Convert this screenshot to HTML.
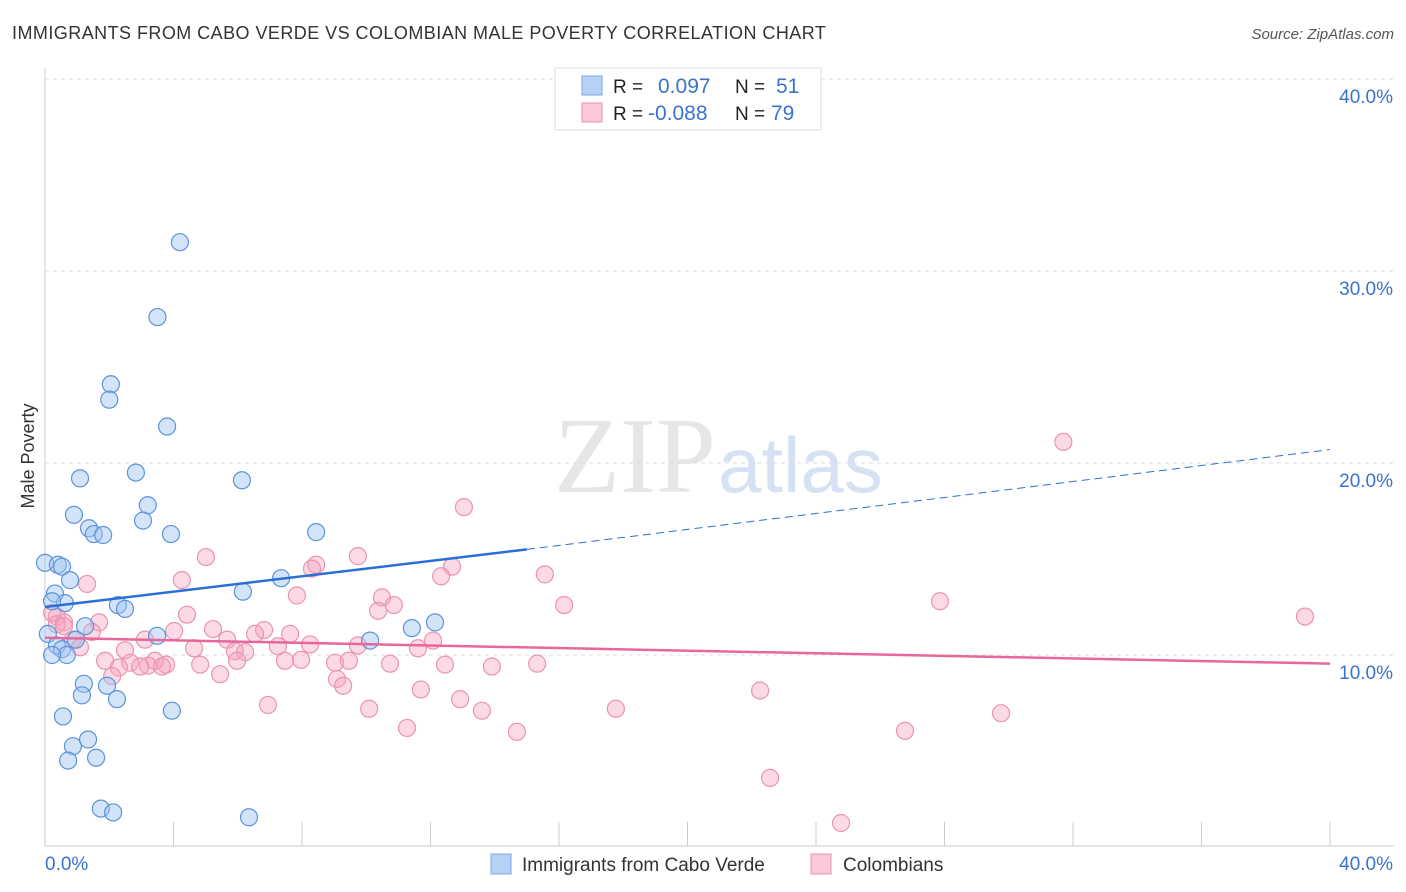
<!DOCTYPE html>
<html><head><meta charset="utf-8"><style>
body{margin:0;background:#fff;font-family:"Liberation Sans",sans-serif}
#c{position:absolute;left:0;top:0;width:1406px;height:892px}
</style></head><body>
<svg id="c" width="1406" height="892">
<text x="12" y="39" font-size="18" fill="#333" letter-spacing="0.45">IMMIGRANTS FROM CABO VERDE VS COLOMBIAN MALE POVERTY CORRELATION CHART</text>
<text x="1394" y="39" font-size="15" fill="#555" font-style="italic" text-anchor="end">Source: ZipAtlas.com</text>
<text x="34" y="456" font-size="18" fill="#333" text-anchor="middle" transform="rotate(-90 34 456)">Male Poverty</text>
<text x="716" y="492" font-size="108" fill="#e6e6e6" text-anchor="end" font-family="Liberation Serif">ZIP</text>
<text x="718" y="492" font-size="78" fill="#d6e2f3">atlas</text>
<g id="grid"></g><g id="marks"></g>
<g>
<rect x="555" y="68" width="266" height="62" fill="#fff" stroke="#ddd"/>
<rect x="582" y="76" width="20" height="19" fill="#b6d1f5" stroke="#7aa7e3"/>
<rect x="582" y="103" width="20" height="19" fill="#fbc9d8" stroke="#eb93b0"/>
<text x="613" y="93" font-size="19" fill="#222">R = </text><text x="658" y="93" font-size="21" fill="#3a73cc">0.097</text>
<text x="735" y="93" font-size="19" fill="#222">N = </text><text x="776" y="93" font-size="21" fill="#3a73cc">51</text>
<text x="613" y="120" font-size="19" fill="#222">R = </text><text x="648" y="120" font-size="21" fill="#3a73cc">-0.088</text>
<text x="735" y="120" font-size="19" fill="#222">N = </text><text x="771" y="120" font-size="21" fill="#3a73cc">79</text>
</g>
<g>
<rect x="491" y="854" width="20" height="20" fill="#b6d1f5" stroke="#7aa7e3"/>
<text x="522" y="871" font-size="19" fill="#333">Immigrants from Cabo Verde</text>
<rect x="811" y="854" width="20" height="20" fill="#fbc9d8" stroke="#eb93b0"/>
<text x="843" y="871" font-size="19" fill="#333">Colombians</text>
</g>
</svg>
<script>
const yTicks=[10,20,30,40];
const xTickLabels=["0.0%","40.0%"];
const blueX=[4.2,3.5,2.05,2.0,3.8,2.83,1.09,6.13,3.2,0.9,3.05,1.37,1.52,1.81,3.92,8.44,0,0.4,0.53,0.78,7.35,0.31,6.16,0.62,0.22,2.27,2.49,12.14,11.42,1.25,3.49,10.12,0.09,0.96,0.37,0.53,0.68,0.22,1.21,1.93,1.15,2.24,3.95,0.56,0.87,1.34,0.72,1.59,1.74,2.12,6.35];
const blueY=[31.5,27.6,24.1,23.3,21.9,19.5,19.2,19.1,17.8,17.3,17.0,16.6,16.3,16.25,16.3,16.4,14.8,14.7,14.6,13.9,14.0,13.2,13.3,12.7,12.8,12.6,12.4,11.7,11.4,11.5,11.0,10.75,11.1,10.8,10.5,10.3,10.0,10.0,8.5,8.4,7.9,7.7,7.1,6.8,5.25,5.6,4.5,4.65,2.0,1.8,1.55];
const pinkX=[31.7,13.04,5.01,9.74,8.44,8.31,12.67,1.31,4.26,12.33,15.56,7.84,10.49,10.86,10.37,16.16,27.86,39.22,4.42,1.68,0.37,0.59,0.22,1.46,4.02,5.23,6.82,6.54,7.63,5.67,12.08,3.11,0.87,1.09,2.49,4.64,7.25,8.25,9.74,11.61,5.91,6.23,3.42,1.87,2.65,3.77,3.21,3.64,5.98,7.47,7.97,9.03,9.46,10.74,12.45,13.91,15.32,2.96,2.3,2.09,5.45,4.83,9.09,9.28,11.7,22.26,12.92,6.94,10.09,13.6,17.77,29.76,11.27,14.69,26.77,22.57,24.78,0.37,0.59];
const pinkY=[21.1,17.7,15.1,15.15,14.7,14.5,14.6,13.7,13.9,14.1,14.2,13.1,13.0,12.6,12.3,12.6,12.8,12.0,12.1,11.7,12.0,11.7,12.2,11.2,11.25,11.35,11.3,11.1,11.1,10.8,10.75,10.8,10.8,10.4,10.25,10.35,10.45,10.55,10.5,10.35,10.2,10.15,9.7,9.7,9.6,9.5,9.45,9.4,9.7,9.7,9.75,9.6,9.7,9.55,9.5,9.4,9.55,9.4,9.35,8.9,9.0,9.5,8.75,8.4,8.2,8.15,7.7,7.4,7.2,7.1,7.2,6.97,6.2,6.0,6.05,3.6,1.25,11.6,11.5];
const blueTrend=[[0,12.5],[15,15.5]],blueDash=[[15,15.5],[40,20.7]],pinkTrend=[[0,10.9],[40,9.55]];
const X=v=>45+v*32.125, Y=v=>847-v*19.2;
const NS="http://www.w3.org/2000/svg";
function mk(t,a,p){const e=document.createElementNS(NS,t);for(const k in a)e.setAttribute(k,a[k]);p.appendChild(e);return e;}
const g=document.getElementById('grid'),m=document.getElementById('marks');
mk('line',{x1:45,y1:68,x2:45,y2:846,stroke:'#ccc'},g);
mk('line',{x1:45,y1:846,x2:1394,y2:846,stroke:'#ccc'},g);
for(let i=0;i<=10;i++){const l=mk('line',{x1:X(i*4),y1:822,x2:X(i*4),y2:846,stroke:'#ccc'},g);

}
mk('line',{x1:45,y1:79,x2:1394,y2:79,stroke:'#ddd','stroke-dasharray':'4 4'},g);
yTicks.forEach(t=>{const l=mk('line',{x1:45,y1:Y(t),x2:1394,y2:Y(t),stroke:'#ddd','stroke-dasharray':'4 4'},g);


const tx=mk('text',{x:1393,y:Y(t)+24,'font-size':19,fill:'#3a73cc','text-anchor':'end'},g);tx.textContent=t.toFixed(1)+'%';

});
const xl0=mk('text',{x:45,y:870,'font-size':19,fill:'#3a73cc'},g);xl0.textContent=xTickLabels[0];


const xl1=mk('text',{x:1393,y:870,'font-size':19,fill:'#3a73cc','text-anchor':'end'},g);xl1.textContent=xTickLabels[1];


pinkX.forEach((v,i)=>{const c=mk('circle',{cx:X(v),cy:Y(pinkY[i]),r:8.5,fill:'rgba(246,163,190,0.4)',stroke:'#eb93b0','stroke-width':1.2},m);

});
blueX.forEach((v,i)=>{const c=mk('circle',{cx:X(v),cy:Y(blueY[i]),r:8.5,fill:'rgba(160,196,240,0.45)',stroke:'#5b93dc','stroke-width':1.2},m);

});
const l1=mk('line',{x1:X(blueTrend[0][0]),y1:Y(blueTrend[0][1]),x2:X(blueTrend[1][0]),y2:Y(blueTrend[1][1]),stroke:'#2a6fd6','stroke-width':2.5},m);


const l2=mk('line',{x1:X(blueDash[0][0]),y1:Y(blueDash[0][1]),x2:X(blueDash[1][0]),y2:Y(blueDash[1][1]),stroke:'#2a6fd6','stroke-width':1,'stroke-dasharray':'8 5'},m);


const l3=mk('line',{x1:X(pinkTrend[0][0]),y1:Y(pinkTrend[0][1]),x2:X(pinkTrend[1][0]),y2:Y(pinkTrend[1][1]),stroke:'#e8679a','stroke-width':2.5},m);


</script>
</body></html>
